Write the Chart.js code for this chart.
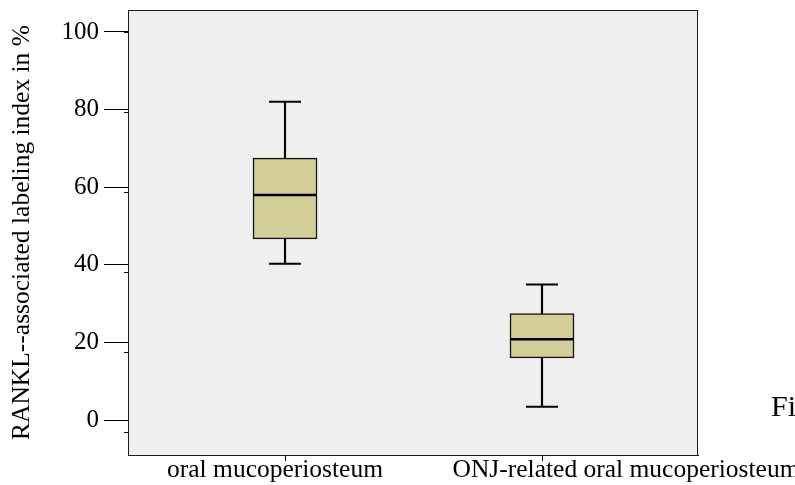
<!DOCTYPE html>
<html>
<head>
<meta charset="utf-8">
<script src="https://cdn.jsdelivr.net/npm/chart.js@4"></script>
<style>
  html, body { margin: 0; padding: 0; background: #fff; }
  canvas { display: block; }
</style>
</head>
<body>
<canvas id="boxChart" width="795" height="485"></canvas>
<script>
const categories = ["oral mucoperiosteum", "ONJ-related oral mucoperiosteum"];
const positions = [1, 2];
const whiskerLow = [40.3, 3.4];
const quartile1 = [46.7, 16.0];
const medians = [58.0, 20.8];
const quartile3 = [67.5, 27.4];
const whiskerHigh = [82.0, 34.9];
const yTicks = [0, 20, 40, 60, 80, 100];
const yTitle = "RANKL--associated labeling index in %";
const figLabel = "Fig.";

const serif = '"Liberation Serif", "Times New Roman", serif';

function hLine(ctx, x0, x1, y) {
  ctx.beginPath();
  ctx.moveTo(x0, y);
  ctx.lineTo(x1, y);
  ctx.stroke();
}

// whisker caps and median lines, placed with the chart's scales
const boxMarks = {
  id: "boxMarks",
  afterDatasetsDraw(chart) {
    const { ctx, scales: { x, y } } = chart;
    ctx.save();
    ctx.strokeStyle = "#000";
    positions.forEach((p, i) => {
      const cx = x.getPixelForValue(p);
      ctx.lineWidth = 2;
      hLine(ctx, cx - 16, cx + 16, y.getPixelForValue(whiskerHigh[i]));
      hLine(ctx, cx - 16, cx + 16, y.getPixelForValue(whiskerLow[i]));
      ctx.lineWidth = 2.5;
      hLine(ctx, cx - 32, cx + 32, y.getPixelForValue(medians[i]));
    });
    ctx.restore();
  }
};

// background, frame, short axis ticks, category labels
const framePlugin = {
  id: "frame",
  beforeDraw(chart) {
    const { ctx, chartArea: a } = chart;
    ctx.save();
    ctx.fillStyle = "#efefef";
    ctx.fillRect(a.left, a.top, a.right - a.left, a.bottom - a.top);
    ctx.restore();
  },
  afterDraw(chart) {
    const { ctx, chartArea: a, scales } = chart;
    ctx.save();
    ctx.strokeStyle = "#1a1a1a";
    ctx.lineWidth = 1;
    ctx.strokeRect(a.left + 0.5, a.top + 0.5, a.right - a.left - 1, a.bottom - a.top);

    ctx.strokeStyle = "#000";
    yTicks.forEach(v => {
      const yy = Math.round(scales.yMinor.getPixelForValue(v)) + 0.5;
      hLine(ctx, a.left - 4, a.left, yy);
    });

    const labelShift = [-10, 84];
    ctx.fillStyle = "#000";
    ctx.font = "25.5px " + serif;
    ctx.textAlign = "center";
    ctx.textBaseline = "alphabetic";
    categories.forEach((c, i) => {
      ctx.fillText(c, scales.x.getPixelForValue(positions[i]) + labelShift[i], a.bottom + 22);
    });

    ctx.font = "30px " + serif;
    ctx.textAlign = "left";
    ctx.fillText(figLabel, a.right + 73, a.bottom - 39);
    ctx.restore();
  }
};

new Chart(document.getElementById("boxChart"), {
  data: {
    datasets: [
      {
        type: "bar",
        data: positions.map((x, i) => ({ x: x, y: [whiskerLow[i], whiskerHigh[i]] })),
        backgroundColor: "#000",
        barThickness: 1.5,
        grouped: false,
        order: 2
      },
      {
        type: "bar",
        data: positions.map((x, i) => ({ x: x, y: [quartile1[i], quartile3[i]] })),
        backgroundColor: "#d3ce98",
        borderColor: "#111",
        borderWidth: 1.5,
        borderSkipped: false,
        barThickness: 64,
        grouped: false,
        order: 1
      }
    ]
  },
  options: {
    responsive: false,
    animation: false,
    events: [],
    layout: {
      padding: { top: 10, right: 97, left: 0, bottom: 0 }
    },
    plugins: {
      legend: { display: false },
      tooltip: { enabled: false }
    },
    scales: {
      x: {
        type: "linear",
        min: 0.389,
        max: 2.607,
        offset: false,
        afterBuildTicks: scale => {
          scale.ticks = positions.map(v => ({ value: v }));
        },
        ticks: { display: false },
        grid: { drawOnChartArea: false, offset: false, tickLength: 6, color: "#000" },
        border: { color: "#000" },
        afterFit: scale => {
          scale.height = 30;
          scale.paddingLeft = 0;
          scale.paddingRight = 0;
        }
      },
      y: {
        type: "linear",
        min: -9.02,
        max: 105.67,
        afterBuildTicks: scale => {
          scale.ticks = yTicks.map(v => ({ value: v }));
        },
        ticks: {
          color: "#000",
          padding: 5,
          font: { family: serif, size: 25 }
        },
        grid: { drawOnChartArea: false, tickLength: 24, color: "#000" },
        border: { color: "#000" },
        title: {
          display: true,
          text: yTitle,
          color: "#000",
          font: { family: serif, size: 25.5 },
          padding: { top: 7, bottom: 0 }
        },
        afterFit: scale => {
          scale.width = 128;
          scale.paddingTop = 0;
          scale.paddingBottom = 0;
        }
      },
      yMinor: {
        type: "linear",
        display: false,
        position: "left",
        min: -5.75,
        max: 105.5
      }
    }
  },
  plugins: [framePlugin, boxMarks]
});
</script>
</body>
</html>
